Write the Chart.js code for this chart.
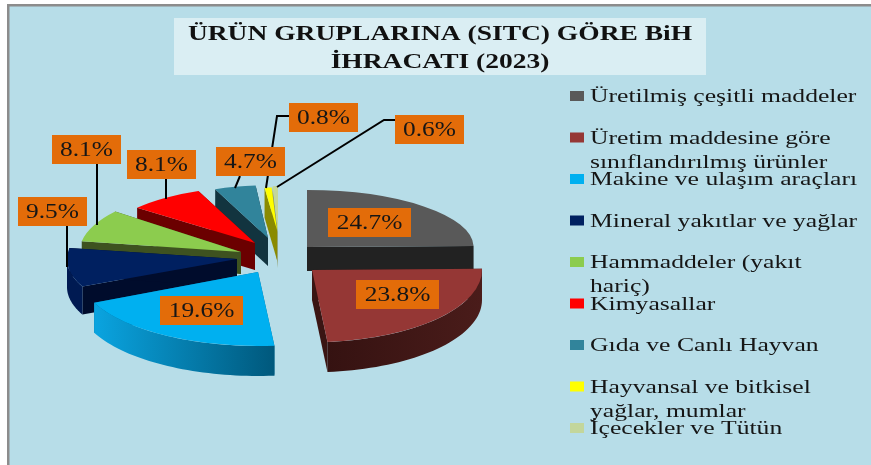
<!DOCTYPE html>
<html lang="tr"><head><meta charset="utf-8">
<style>html,body{margin:0;padding:0;background:#fff;overflow:hidden}#w{width:871px;height:465px}canvas{display:block;filter:blur(0.4px)}</style>
<script src="https://cdn.jsdelivr.net/npm/chart.js@4"></script></head>
<body><div id="w"><canvas id="c" width="871" height="465"></canvas></div>
<script>
const categories = ['Üretilmiş çeşitli maddeler','Üretim maddesine göre sınıflandırılmış ürünler','Makine ve ulaşım araçları','Mineral yakıtlar ve yağlar','Hammaddeler (yakıt hariç)','Kimyasallar','Gıda ve Canlı Hayvan','Hayvansal ve bitkisel yağlar, mumlar','İçecekler ve Tütün'];
const shares = [24.7,23.8,19.6,9.5,8.1,8.1,4.7,0.8,0.6];
const titleLines = ['ÜRÜN GRUPLARINA (SITC) GÖRE BiH','İHRACATI (2023)'];
const legendBreaks = [null,'Üretim maddesine göre',null,null,'Hammaddeler (yakıt',null,null,'Hayvansal ve bitkisel',null];
const topColors = ['#595959','#953735','#00b0f0','#002060','#8ccc4e','#ff0000','#31849b','#ffff00','#c3d69b'];
const wallColors = ['#222222','#3a1513','#00648c','#000c2c','#3e5220','#6b0000','#12343f','#8a8a00','#96a578'];
const rimStops = [null,['#351211','#4a1c1a'],['#0aa4e0','#00587c'],['#001a52','#001a52'],null,null,null,null,null];

// Screen placement of each exploded wedge: apex, x/y foreshortening, thickness.
const view = [
 {x:307,y:247,sx:.98,sy:.335,d:24},{x:312,y:270,sx:1,sy:.425,d:30},{x:258,y:272,sx:1.06,sy:.435,d:30},
 {x:237,y:259,sx:1,sy:.39,d:28},{x:241,y:252,sx:.95,sy:.38,d:22},{x:255,y:243,sx:.89,sy:.33,d:27},
 {x:268,y:238,sx:.83,sy:.31,d:28},{x:277,y:230,sx:.83,sy:.25,d:30},{x:278,y:232,sx:.83,sy:.27,d:36}];
const paintOrder = [0,8,7,6,5,4,3,2,1];
// Label boxes [left, top] and their leader lines.
const labelBoxes = [[328,208],[356,280],[160,296],[18,197],[52,135],[127,150],[216,147],[289,103],[395,115]];
const leaders = [null,null,null,[[67,226],[67,267]],[[97,164],[97,225]],[[166,179],[166,199]],[[240,176],[235,188]],[[289,116],[277,116],[266,188]],[[395,120],[384,120],[277,187]]];

const BG='#b7dde8', SERIF='"Liberation Serif","Times New Roman",serif', INK='#161616';
const TEXT_STRETCH=1.27, TITLE_STRETCH=1.25;

function wideText(c,text,x,y,k){ c.save(); c.translate(x,y); c.scale(k,1); c.fillText(text,0,0); c.restore(); }

const pie3d = {
 id:'pie3d',
 afterLayout(ch){
  const tb=ch.titleBlock;
  if(tb && !tb._wide){
    tb._wide=true;
    const draw=tb.draw.bind(tb);
    tb.draw=function(area){
      const c=ch.ctx, mid=tb.left+tb.width/2;
      c.save(); c.translate(mid,0); c.scale(TITLE_STRETCH,1); c.translate(-mid,0); draw(area); c.restore();
    };
  }
 },
 beforeDraw(ch){
  const c=ch.ctx; c.save();
  c.fillStyle='#fff'; c.fillRect(0,0,871,465);
  c.fillStyle=BG; c.fillRect(7,4,864,461);
  c.fillStyle='#8c8c8c'; c.fillRect(7,4,864,2.5); c.fillRect(7,4,2.5,461);
  c.fillStyle='#daeef3'; c.fillRect(174,18,532,57);
  c.restore();
 },
 beforeDatasetDraw(ch){
  const c=ch.ctx, arcs=ch.getDatasetMeta(0).data;
  for(const i of paintOrder){
   const a=arcs[i], v=view[i], R=a.outerRadius;
   const P=t=>[v.x+Math.cos(t)*R*v.sx, v.y+Math.sin(t)*R*v.sy];
   c.save(); c.fillStyle=wallColors[i];
   for(const t of [a.startAngle,a.endAngle]){
     const p=P(t); c.beginPath(); c.moveTo(v.x,v.y); c.lineTo(p[0],p[1]); c.lineTo(p[0],p[1]+v.d); c.lineTo(v.x,v.y+v.d); c.closePath(); c.fill();
   }
   const s=Math.max(a.startAngle,0), e=Math.min(a.endAngle,Math.PI);
   if(e>s){
     c.beginPath();
     for(let k=0;k<=40;k++){const p=P(s+(e-s)*k/40); c.lineTo(p[0],p[1]);}
     for(let k=40;k>=0;k--){const p=P(s+(e-s)*k/40); c.lineTo(p[0],p[1]+v.d);}
     c.closePath();
     if(rimStops[i]){const p0=P(s),p1=P(e),g=c.createLinearGradient(Math.min(p0[0],p1[0]),0,Math.max(p0[0],p1[0]),0); g.addColorStop(0,rimStops[i][0]); g.addColorStop(1,rimStops[i][1]); c.fillStyle=g;}
     c.fill();
   }
   c.translate(v.x,v.y); c.scale(v.sx,v.sy); c.translate(-a.x,-a.y);
   a.draw(c);
   c.restore();
  }
  return false;
 },
 afterDatasetsDraw(ch){
  const c=ch.ctx; c.save();
  c.strokeStyle='#000'; c.lineWidth=2;
  leaders.forEach(l=>{ if(!l)return; c.beginPath(); l.forEach((p,k)=>k?c.lineTo(p[0],p[1]):c.moveTo(p[0],p[1])); c.stroke(); });
  c.font='20px '+SERIF; c.textAlign='center'; c.textBaseline='middle';
  shares.forEach((v,i)=>{
    const [x,y]=labelBoxes[i], w=i<3?83:69, h=29;
    c.fillStyle='#e36c09'; c.fillRect(x,y,w,h);
    c.fillStyle=INK; wideText(c,v.toFixed(1)+'%',x+w/2,y+h/2+1,TEXT_STRETCH);
  });
  c.textAlign='left'; c.textBaseline='alphabetic'; c.font='19px '+SERIF;
  categories.forEach((t,i)=>{
    const y=96+41.5*i;
    c.fillStyle=topColors[i]; c.fillRect(570,y-5,14,10);
    c.fillStyle=INK;
    const first=legendBreaks[i]||t;
    wideText(c,first,590,y+6,1.35);
    if(legendBreaks[i]) wideText(c,t.slice(first.length+1),590,y+30,1.35);
  });
  c.restore();
 }
};

new Chart(document.getElementById('c'),{
 type:'pie',
 data:{labels:categories,datasets:[{data:shares,backgroundColor:topColors,borderWidth:0,radius:170}]},
 plugins:[pie3d],
 options:{responsive:false,animation:false,events:[],
  layout:{padding:{left:9}},
  plugins:{
   legend:{display:false},tooltip:{enabled:false},
   title:{display:true,text:titleLines,color:'#111',font:{family:SERIF,size:22,weight:'bold',lineHeight:1.27},padding:{top:20,bottom:0}}
  }}
});
</script></body></html>
